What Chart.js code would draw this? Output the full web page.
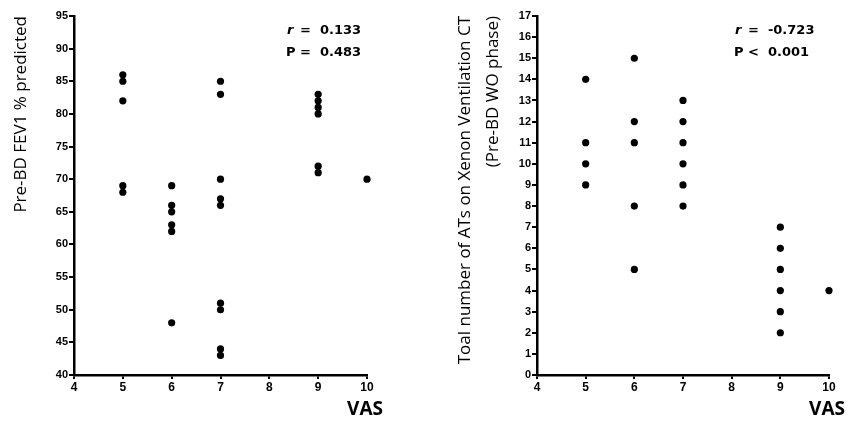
<!DOCTYPE html>
<html>
<head>
<meta charset="utf-8">
<script src="https://cdn.jsdelivr.net/npm/chart.js@4.4.1/dist/chart.umd.min.js"></script>
<style>
  html, body { margin: 0; padding: 0; background: #fff; }
  #wrap { position: relative; width: 854px; height: 421px; }
  #c1 { position: absolute; left: 0; top: 0; }
  #c2 { position: absolute; left: 430px; top: 0; }
</style>
</head>
<body>
<div id="wrap">
  <canvas id="c1" width="430" height="421"></canvas>
  <canvas id="c2" width="424" height="421"></canvas>
</div>
<script>
// ---- data ----
const vasFev1 = [5, 5, 5, 5, 5, 6, 6, 6, 6, 6, 6, 7, 7, 7, 7, 7, 7, 7, 7, 7, 9, 9, 9, 9, 9, 9, 10];
const fev1Pct = [86, 85, 82, 69, 68, 69, 66, 65, 63, 62, 48, 85, 83, 70, 67, 66, 51, 50, 44, 43, 83, 82, 81, 80, 72, 71, 70];

const vasAts = [5, 5, 5, 5, 6, 6, 6, 6, 6, 7, 7, 7, 7, 7, 7, 9, 9, 9, 9, 9, 9, 10];
const atsCount = [14, 11, 10, 9, 15, 12, 11, 8, 5, 13, 12, 11, 10, 9, 8, 7, 6, 5, 4, 3, 2, 4];

const xTicks = [4, 5, 6, 7, 8, 9, 10];

const statsFev1 = ['=  0.133', '=  0.483'];
const statsAts = ['=  -0.723', '<  0.001'];

function toPoints(xs, ys) {
  return xs.map((x, i) => ({ x: x, y: ys[i] }));
}

// r / P box in the upper right, plus the "VAS" label past the axis end
function textPlugin(stats, fx) {
  return {
    id: 'texts',
    afterDraw(chart) {
      const ctx = chart.ctx;
      const a = chart.chartArea;
      const x = a.left + (a.right - a.left) * fx;
      ctx.save();
      ctx.fillStyle = '#000';
      ctx.textBaseline = 'middle';
      ctx.textAlign = 'left';
      ctx.font = 'italic bold 13px "DejaVu Sans"';
      ctx.fillText('r', x, 31);
      ctx.font = 'bold 13px "DejaVu Sans"';
      ctx.fillText(stats[0], x + 13, 31);
      ctx.fillText('P', x - 1, 53);
      ctx.fillText(stats[1], x + 13, 53);
      ctx.font = 'bold 19px "Open Sans"';
      ctx.textAlign = 'right';
      ctx.fillText('VAS', a.right + 16, 410);
      ctx.restore();
    }
  };
}

function makeOptions(yMin, yMax, yStep, yTitle, yWidth, rightPad, titlePad) {
  const tickFont = { family: '"Liberation Sans", Arial', weight: 700, size: 11 };
  return {
    responsive: false,
    animation: false,
    layout: { padding: { top: 16, right: rightPad, left: 0, bottom: 0 } },
    plugins: { legend: { display: false }, tooltip: { enabled: false } },
    scales: {
      x: {
        type: 'linear',
        min: 4,
        max: 10,
        afterBuildTicks: s => { s.ticks = xTicks.map(v => ({ value: v })); },
        ticks: { color: '#000', font: { family: '"Liberation Sans", Arial', weight: 700, size: 12 }, padding: 1, autoSkip: false, maxRotation: 0 },
        grid: { display: true, drawOnChartArea: false, color: '#000', lineWidth: 2, tickLength: 4 },
        border: { color: '#000', width: 2.5 },
        afterFit: s => { s.height = 46; }
      },
      y: {
        type: 'linear',
        min: yMin,
        max: yMax,
        ticks: { stepSize: yStep, color: '#000', font: tickFont, padding: 1, autoSkip: false },
        grid: { display: true, drawOnChartArea: false, color: '#000', lineWidth: 2, tickLength: 5 },
        border: { color: '#000', width: 2.5 },
        title: { display: true, text: yTitle, align: 'end', color: '#000', font: { family: '"Open Sans"', size: 17, lineHeight: 1.65 }, padding: { top: titlePad, bottom: 0 } },
        afterFit: s => { s.width = yWidth; }
      }
    }
  };
}

function dataset(points) {
  return {
    datasets: [{
      data: points,
      showLine: false,
      clip: false,
      pointStyle: 'circle',
      pointRadius: 3.6,
      backgroundColor: '#000',
      borderColor: '#000',
      borderWidth: 0
    }]
  };
}

new Chart(document.getElementById('c1'), {
  type: 'scatter',
  data: dataset(toPoints(vasFev1, fev1Pct)),
  options: makeOptions(40, 95, 5, 'Pre-BD FEV1 % predicted', 74, 63, 7),
  plugins: [textPlugin(statsFev1, 0.727)]
});

new Chart(document.getElementById('c2'), {
  type: 'scatter',
  data: dataset(toPoints(vasAts, atsCount)),
  options: makeOptions(0, 17, 1, ['Toal number of ATs on Xenon Ventilation CT', '(Pre-BD WO phase)'], 107, 25, 21),
  plugins: [textPlugin(statsAts, 0.678)]
});
</script>
</body>
</html>
